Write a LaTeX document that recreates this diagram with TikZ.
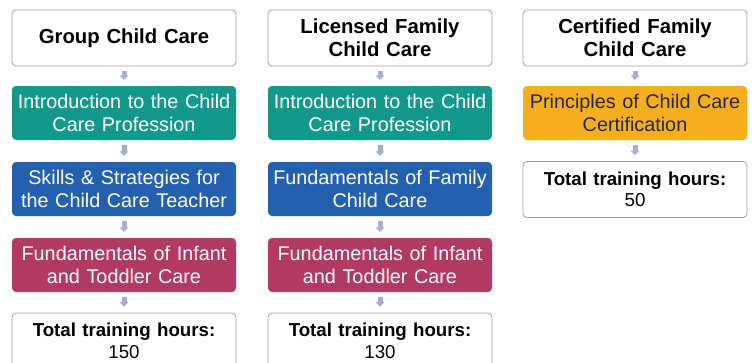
\documentclass[tikz,border=0pt]{standalone}
\usepackage{fontspec}
\setmainfont{Liberation Sans}
\usetikzlibrary{arrows.meta}

\definecolor{tealstep}{HTML}{12998C}
\definecolor{bluestep}{HTML}{2460B0}
\definecolor{rosestep}{HTML}{B23A62}
\definecolor{goldstep}{HTML}{F7AE1E}
\definecolor{flowgray}{HTML}{A3AFD3}
\definecolor{edgegray}{HTML}{A0A0A0}

\begin{document}
\begin{tikzpicture}[x=1pt,y=-1pt,
    box/.style={rounded corners=4pt,minimum width=224pt,minimum height=54pt,
      text width=222pt,align=center,inner sep=0pt,font=\fontsize{19.8}{22.5}\selectfont},
    head/.style={box,draw=edgegray,line width=0.8pt,fill=white,minimum height=56pt,
      font=\fontsize{20.3}{23}\selectfont\bfseries},
    total/.style={box,draw=edgegray,line width=0.8pt,fill=white,minimum height=56pt,
      font=\fontsize{18.7}{21.5}\selectfont},
    flow/.style={-{Triangle[width=9pt,length=4.5pt]},line width=5pt,draw=flowgray,
      shorten <=4.5pt,shorten >=6pt}]

    \clip (0,0) rectangle (755,362);

    % group child care
    \node[head] (g0) at (124,38) {Group Child Care};
    \node[box,fill=tealstep,text=white] (g1) at (124,113) {Introduction to the Child\\Care Profession};
    \node[box,fill=bluestep,text=white] (g2) at (124,189) {Skills \& Strategies for\\the Child Care Teacher};
    \node[box,fill=rosestep,text=white] (g3) at (124,265) {Fundamentals of Infant\\and Toddler Care};
    \node[total] (g4) at (124,341) {\textbf{Total training hours:}\\150};

    % licensed family child care
    \node[head] (l0) at (380,38) {Licensed Family\\Child Care};
    \node[box,fill=tealstep,text=white] (l1) at (380,113) {Introduction to the Child\\Care Profession};
    \node[box,fill=bluestep,text=white] (l2) at (380,189) {Fundamentals of Family\\Child Care};
    \node[box,fill=rosestep,text=white] (l3) at (380,265) {Fundamentals of Infant\\and Toddler Care};
    \node[total] (l4) at (380,341) {\textbf{Total training hours:}\\130};

    % certified family child care
    \node[head] (c0) at (635,38) {Certified Family\\Child Care};
    \node[box,fill=goldstep,text=black!85] (c1) at (635,113) {Principles of Child Care\\Certification};
    \node[total] (c2) at (635,189.5) {\textbf{Total training hours:}\\50};

    \draw[flow] (g0) -- (g1);
    \draw[flow] (g1) -- (g2);
    \draw[flow] (g2) -- (g3);
    \draw[flow] (g3) -- (g4);
    \draw[flow] (l0) -- (l1);
    \draw[flow] (l1) -- (l2);
    \draw[flow] (l2) -- (l3);
    \draw[flow] (l3) -- (l4);
    \draw[flow] (c0) -- (c1);
    \draw[flow] (c1) -- (c2);

\end{tikzpicture}
\end{document}
